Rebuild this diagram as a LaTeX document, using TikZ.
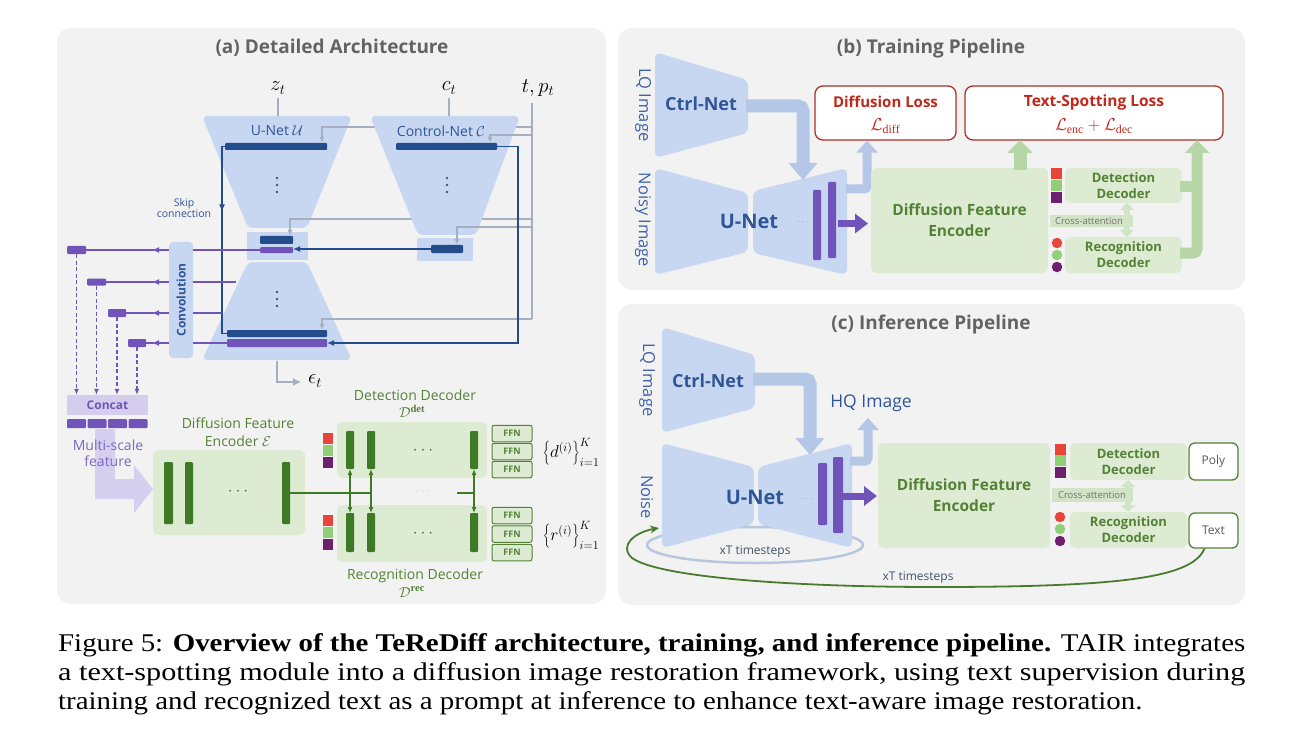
\documentclass[tikz,border=0pt]{standalone}
\usepackage{fontspec}
\usepackage{graphicx}
\setmainfont{Liberation Serif}
\newfontfamily\dfont{Open Sans}
\newfontfamily\capfont{Liberation Serif}
\usetikzlibrary{arrows.meta,calc}

\definecolor{panelbg}{HTML}{F2F2F2}
\definecolor{titlegray}{HTML}{636363}
\definecolor{lblue}{HTML}{C8D7F1}
\definecolor{dblue}{HTML}{244C8A}
\definecolor{tblue}{HTML}{2F5597}
\definecolor{sblue}{HTML}{3F63A8}
\definecolor{glinec}{HTML}{A5AFC2}
\definecolor{vpurple}{HTML}{7054BA}
\definecolor{lpurple}{HTML}{D4CDEE}
\definecolor{lpurplea}{HTML}{D6D0F0}
\definecolor{tpurple}{HTML}{7B68C4}
\definecolor{lgreen}{HTML}{DDEBD3}
\definecolor{dgreen}{HTML}{3E7A26}
\definecolor{tgreen}{HTML}{548235}
\definecolor{sqred}{HTML}{E8453A}
\definecolor{sqgreen}{HTML}{8FD077}
\definecolor{sqpurple}{HTML}{6E1F6E}
\definecolor{lossred}{HTML}{A83228}
\definecolor{losstext}{HTML}{C0281C}
\definecolor{barrow}{HTML}{B4C7E7}
\definecolor{garrow}{HTML}{B7D6A6}
\definecolor{cagreen}{HTML}{D2E4C6}
\definecolor{dotgray}{HTML}{595959}
\definecolor{ellc}{HTML}{B8C6DE}
\definecolor{curvec}{HTML}{4A7A2E}
\definecolor{smalltext}{HTML}{44546A}

\newcommand{\fsz}[2]{\fontsize{#1}{#2}\selectfont}

\tikzset{
  ttl/.style={font={\dfont\bfseries\fsz{19}{22}}, text=titlegray, inner sep=0pt},
  mth/.style={font={\fsz{21}{24}}, inner sep=1pt},
  gl/.style={draw=glinec, line width=1.3pt},
  gtip/.style={-{Latex[length=6pt,width=5pt]}},
  bl/.style={draw=dblue, line width=1.6pt},
  btip/.style={-{Latex[length=7pt,width=6pt]}},
  pl/.style={draw=vpurple, line width=1.6pt},
  ptip/.style={-{Latex[length=7pt,width=6pt]}},
  dgl/.style={draw=dgreen, line width=1.3pt},
  dbar/.style={fill=dblue, inner sep=0pt, outer sep=0pt, rounded corners=1pt},
  pbar/.style={fill=vpurple, inner sep=0pt, outer sep=0pt, rounded corners=1pt},
  gbar/.style={fill=dgreen, inner sep=0pt, outer sep=0pt, rounded corners=1pt},
  sq/.style={inner sep=0pt, minimum width=11pt, minimum height=11pt},
  circ/.style={circle, inner sep=0pt, minimum size=10.5pt},
  gbox/.style={fill=lgreen, rounded corners=6pt, inner sep=0pt},
  ffn/.style={fill=lgreen, draw=tgreen, line width=1pt, rounded corners=2pt, inner sep=0pt, minimum width=40pt, minimum height=16.5pt, font={\dfont\bfseries\fsz{9}{10}}, text=tgreen},
  lossbox/.style={fill=white, draw=lossred, line width=1.3pt, rounded corners=8pt, inner sep=0pt},
  outbox/.style={fill=white, draw=tgreen, line width=1.3pt, rounded corners=6pt, inner sep=0pt, minimum width=49pt, font={\dfont\fsz{12}{14}}, text=dotgray},
  dectext/.style={font={\dfont\bfseries\fsz{13}{16}}, text=tgreen, align=center},
  lbl/.style={font={\dfont\fsz{14}{16}}, inner sep=0pt},
  sidel/.style={rotate=-90, font={\dfont\fsz{16.5}{18}}, text=sblue, inner sep=0pt},
  netl/.style={font={\dfont\bfseries\fsz{18}{20}}, text=tblue, inner sep=0pt},
  bigb/.style={draw=barrow, line width=13pt, rounded corners=5pt, -{Triangle[width=28pt,length=17pt]}},
  smallb/.style={draw=barrow, line width=9pt, rounded corners=3pt, -{Triangle[width=21pt,length=12pt]}},
  parrow/.style={draw=vpurple, line width=7pt, -{Triangle[width=19pt,length=13pt]}},
  caarrow/.style={draw=cagreen, line width=6pt, {Triangle[width=14pt,length=7pt]}-{Triangle[width=14pt,length=7pt]}},
  vdot/.style={fill=smalltext, circle, inner sep=0pt, minimum size=2.6pt},
  capline/.style={anchor=base west, inner sep=0pt},
}
\newcommand{\vdotsat}[3]{% name, x, y
  \node[vdot] (#1a) at (#2,#3-7) {};
  \node[vdot] (#1b) at (#2,#3) {};
  \node[vdot] (#1c) at (#2,#3+7) {};}

\begin{document}
\begin{tikzpicture}[x=1pt,y=-1pt]
\useasboundingbox (0,0) rectangle (1297,751);
\fill[white] (0,0) rectangle (1297,751);

% ================= panel (a)
\fill[panelbg, rounded corners=14pt] (57,28) rectangle (606,604);
\node[ttl] (ta) at (332,48) {(a) Detailed Architecture};

\node[mth] (zt) at (278,88) {$z_t$};
\node[mth] (ct) at (449,88) {$c_t$};
\node[mth] (tp) at (538,88) {$t, p_t$};
\coordinate (uTop) at (278,117);
\coordinate (cTop) at (449,117);
\draw[gl, shorten <=3pt] (zt.south) -- (uTop);
\draw[gl, shorten <=3pt] (ct.south) -- (cTop);

% U-Net
\fill[lblue, rounded corners=5pt] (202,116) -- (352,116) -- (307,228) -- (248,228) -- cycle;
\fill[lblue] (247,232) rectangle (308,260);
\fill[lblue, rounded corners=5pt] (248,262) -- (307,262) -- (352,360) -- (202,360) -- cycle;
\node[lbl, text=tblue] (ulab) at (277,131) {U-Net $\mathcal{U}$};
\node[dbar, minimum width=102pt, minimum height=7pt] (ub1) at (276,146.5) {};
\vdotsat{ud1}{277}{185}
\node[dbar, minimum width=33pt, minimum height=8pt] (umd) at (276.5,240) {};
\node[pbar, minimum width=33pt, minimum height=6pt] (ump) at (276.5,250) {};
\vdotsat{ud2}{277}{299}
\node[dbar, minimum width=100pt, minimum height=7pt] (ubd) at (277,333.5) {};
\node[pbar, minimum width=100pt, minimum height=8pt] (ubp) at (277,343) {};

% timestep lines behind control net
\coordinate (tpA) at (532,103);
\coordinate (tpB) at (532,319);
\draw[gl] (tpA) -- (tpB);
\draw[gl, gtip] (532,127) -| ($(ub1.north east)+(-5,0)$);
\draw[gl, gtip] (532,219) -| ($(umd.north east)+(-3,0)$);

% Control-Net
\fill[lblue, rounded corners=5pt] (370,116) -- (520,116) -- (476,235) -- (418,235) -- cycle;
\fill[lblue] (417,238) rectangle (473,261);
\node[lbl, text=tblue] (clab) at (441,131) {Control-Net $\mathcal{C}$};
\node[dbar, minimum width=101pt, minimum height=7pt] (cb1) at (446.5,146.5) {};
\vdotsat{cd1}{447}{185}
\node[dbar, minimum width=32pt, minimum height=8pt] (cmd) at (447,249) {};
\draw[gl, gtip] (532,135) -| ($(cb1.north east)+(-7,0)$);
\draw[gl, gtip] (532,227) -| ($(cmd.north east)+(-6,0)$);
\draw[gl, gtip] (532,319) -| ($(ubd.north east)+(-5,0)$);

% dark blue connections
\draw[bl, btip] (cb1.east) -- (518,146.5) |- (ubp.east);
\draw[bl, btip] (cmd.west) -- (cmd.west -| ump.east);
\draw[bl] (ub1.west) -- ++(-3,0) coordinate (sk) -- (sk |- ubd.west) -- (ubd.west);
\draw[bl, btip] (sk) -- ++(0,65);
\node[font={\dfont\fsz{10.5}{11.5}}, text=tblue, align=center, inner sep=0pt] (skl) at (184,208) {Skip\\connection};

% epsilon
\node[mth, anchor=west] (eps) at (307,381) {$\epsilon_t$};
\coordinate (uBot) at (277,361);
\draw[gl, -{Latex[length=8pt,width=8pt]}] (uBot) |- ($(eps.west)+(-6,1)$);

% convolution
\node[fill=lblue, rounded corners=4pt, minimum width=24pt, minimum height=116pt, inner sep=0pt] (conv) at (181,300) {};
\node[rotate=90, font={\dfont\bfseries\fsz{12}{14}}, text=tblue, inner sep=0pt] (convt) at (conv.center) {Convolution};
\draw[pl] (ump.west) -- (193,250);
\draw[pl] (236,282) -- (193,282);
\draw[pl] (222,313) -- (193,313);
\draw[pl] (ubp.west) -- (193,343);

\node[pbar, minimum width=19pt, minimum height=8pt] (r1) at (76.5,250) {};
\node[pbar, minimum width=19pt, minimum height=7pt] (r2) at (96.5,282) {};
\node[pbar, minimum width=18pt, minimum height=8pt] (r3) at (117,313) {};
\node[pbar, minimum width=18pt, minimum height=8pt] (r4) at (137,343) {};
\foreach \yy/\rr in {250/r1, 282/r2, 313/r3, 343/r4} {
  \draw[pl, ptip] (169,\yy) -- (152,\yy);
  \draw[pl] (154,\yy) -- (\rr.east);
}

% concat
\node[fill=lpurple, inner sep=0pt, minimum width=81pt, minimum height=20pt, font={\dfont\bfseries\fsz{12}{14}}, text=vpurple] (concat) at (107.5,405) {Concat};
\foreach \rr in {r1,r2,r3,r4}
  \draw[pl, line width=1.4pt, dash pattern=on 4pt off 2.5pt, -{Latex[length=6pt,width=5pt]}] (\rr.south) -- (\rr.south |- concat.north);
\foreach \ii/\xx in {1/76.5, 2/97, 3/117.5, 4/138}
  \node[pbar, minimum width=19pt, minimum height=9pt] (seg\ii) at (\xx,423.5) {};

\fill[lpurplea] (95,429) -- (115,429) -- (115,479) -- (134,479) -- (134,465) -- (153,489) -- (134,513) -- (134,499) -- (95,499) -- cycle;
\node[font={\dfont\fsz{14}{16}}, text=tpurple, align=center, inner sep=0pt] (msf) at (108,453) {Multi-scale\\feature};

% encoder (a)
\node[font={\dfont\fsz{14}{17.5}}, text=tgreen, align=center, inner sep=0pt] (enclab) at (238,432) {Diffusion Feature\\Encoder $\mathcal{E}$};
\node[gbox, minimum width=152pt, minimum height=85pt] (enc) at (229,492.5) {};
\node[gbar, minimum width=9pt, minimum height=62pt] (e1) at (168.5,493) {};
\node[gbar, minimum width=8pt, minimum height=62pt] (e2) at (189,493) {};
\node[gbar, minimum width=8pt, minimum height=62pt] (e3) at (286,493) {};
\node[text=dotgray, inner sep=0pt] (edots) at (238,492) {\fsz{16}{18}$\cdots$};

% decoders (a)
\node[gbox, minimum width=150pt, minimum height=56pt] (det) at (412,450) {};
\node[gbox, minimum width=150pt, minimum height=57pt] (rec) at (412,533.5) {};
\node[gbar, minimum width=8pt, minimum height=38pt] (d1) at (350,450) {};
\node[gbar, minimum width=8pt, minimum height=38pt] (d2) at (371,450) {};
\node[gbar, minimum width=8pt, minimum height=38pt] (d3) at (474,450) {};
\node[gbar, minimum width=8pt, minimum height=39pt] (q1) at (350,532.5) {};
\node[gbar, minimum width=8pt, minimum height=39pt] (q2) at (371,532.5) {};
\node[gbar, minimum width=8pt, minimum height=39pt] (q3) at (474,532.5) {};
\node[text=dotgray, inner sep=0pt] (ddots) at (423,451) {\fsz{16}{18}$\cdots$};
\node[text=dotgray, inner sep=0pt] (qdots) at (423,534) {\fsz{16}{18}$\cdots$};
\draw[dgl] (e3.east) -- (e3.east -| d2.south);
\draw[dgl, {Latex[length=6pt,width=5pt]}-{Latex[length=6pt,width=5pt]}] (d1.south) -- (q1.north);
\draw[dgl, {Latex[length=6pt,width=5pt]}-{Latex[length=6pt,width=5pt]}] (d2.south) -- (q2.north);
\coordinate (seg2a) at (457,493);
\draw[dgl] (seg2a) -- (seg2a -| d3.south);
\draw[dgl, {Latex[length=6pt,width=5pt]}-{Latex[length=6pt,width=5pt]}] (d3.south) -- (q3.north);
\node[text=gray, inner sep=0pt] (mdots) at (423,492) {\fsz{8}{9}$\cdot\,\cdot\,\cdot$};

\foreach \cc/\yy/\nn in {sqred/438/a, sqgreen/450/b, sqpurple/462/c}
  \node[sq, fill=\cc, minimum width=10pt] (dsq\nn) at (328,\yy) {};
\foreach \cc/\yy/\nn in {sqred/520/a, sqgreen/532/b, sqpurple/544/c}
  \node[sq, fill=\cc, minimum width=10pt] (rsq\nn) at (328,\yy) {};

\foreach \yy/\nn in {433.5/1, 451.5/2, 469.5/3}
  \node[ffn] (fd\nn) at (512,\yy) {FFN};
\foreach \yy/\nn in {515.5/1, 534/2, 552.5/3}
  \node[ffn] (fr\nn) at (512,\yy) {FFN};

\node[font={\fsz{17.5}{20}}, inner sep=0pt] (dset) at (571,452) {$\left\{d^{(i)}\right\}_{i=1}^{K}$};
\node[font={\fsz{17.5}{20}}, inner sep=0pt] (rset) at (571,535) {$\left\{r^{(i)}\right\}_{i=1}^{K}$};

\node[lbl, text=tgreen] (detlab) at (415,395) {Detection Decoder};
\node[font={\fsz{15}{17}}, text=tgreen, inner sep=0pt] (detsym) at (412,411) {$\mathcal{D}^{\mathbf{det}}$};
\node[lbl, text=tgreen] (reclab) at (415,576) {Recognition Decoder};
\node[font={\fsz{15}{17}}, text=tgreen, inner sep=0pt] (recsym) at (412,592) {$\mathcal{D}^{\mathbf{rec}}$};

% ================= panel (b)
\fill[panelbg, rounded corners=14pt] (618,28) rectangle (1245,290);
\node[ttl] (tb) at (931,49) {(b) Training Pipeline};

\fill[lblue, rounded corners=6pt] (655,52) -- (748,80) -- (748,133) -- (655,158) -- cycle;
\fill[lblue, rounded corners=6pt] (655,168) -- (748,193) -- (748,252) -- (655,275) -- cycle;
\fill[lblue, rounded corners=6pt] (753,191) -- (847,168) -- (847,275) -- (753,253) -- cycle;
\node[netl] (ctrlb) at (701,104) {Ctrl-Net};
\node[netl, font={\dfont\bfseries\fsz{20}{22}}] (unetb) at (749,221) {U-Net};
\node[sidel] (lqb) at (643,105) {LQ Image};
\node[sidel] (nib) at (643,220) {Noisy Image};
\node[text=gray, inner sep=0pt] (bdots) at (803,222) {\fsz{9}{10}$\cdots$};
\node[pbar, minimum width=8pt, minimum height=70pt] (pb1) at (817,225) {};
\node[pbar, minimum width=8pt, minimum height=76pt] (pb2) at (832,220) {};
\draw[parrow] (838,223.5) -- (868,223.5);

\node[lossbox, minimum width=141pt, minimum height=54pt] (dloss) at (885.5,113) {};
\node[font={\dfont\bfseries\fsz{15}{17}}, text=losstext, inner sep=0pt] (dlossT) at (885.5,102) {Diffusion Loss};
\node[font={\fsz{17}{19}}, text=losstext, inner sep=0pt] (dlossM) at (885.5,126) {$\mathcal{L}_{\mathrm{diff}}$};
\node[lossbox, minimum width=258pt, minimum height=54pt] (tloss) at (1094,113) {};
\node[font={\dfont\bfseries\fsz{15.5}{17}}, text=losstext, inner sep=0pt] (tlossT) at (1094,102) {Text-Spotting Loss};
\node[font={\fsz{17}{19}}, text=losstext, inner sep=0pt] (tlossM) at (1094,126) {$\mathcal{L}_{\mathrm{enc}}+\mathcal{L}_{\mathrm{dec}}$};

\draw[bigb] (746,106) -- (803,106) -- (803,180);
\draw[smallb] (846,189) -- (867,189) -- (dloss.south -| 867,0);

\node[gbox, minimum width=177pt, minimum height=105pt, font={\dfont\bfseries\fsz{15.5}{21}}, text=tgreen, align=center] (encb) at (959.5,220.5) {Diffusion Feature\\Encoder};
\draw[draw=garrow, line width=13pt, -{Triangle[width=25pt,length=13pt]}] (1020,170) -- (1020,140);

\node[gbox, minimum width=117pt, minimum height=35pt, dectext] (detb) at (1123.5,185.5) {Detection\\Decoder};
\node[gbox, minimum width=117pt, minimum height=36pt, dectext] (recb) at (1123.5,255) {Recognition\\Decoder};
\node[sq, fill=sqred] (bs1) at (1056.5,174) {};
\node[sq, fill=sqgreen] (bs2) at (1056.5,186) {};
\node[sq, fill=sqpurple] (bs3) at (1056.5,197.5) {};
\node[circ, fill=sqred] (bc1) at (1057,243) {};
\node[circ, fill=sqgreen] (bc2) at (1057,255) {};
\node[circ, fill=sqpurple] (bc3) at (1057,267) {};
\node[fill=cagreen, minimum width=83pt, minimum height=12pt, inner sep=0pt] (cab) at (1091.5,221) {};
\draw[caarrow] (1127,203) -- (1127,237);
\node[font={\dfont\fsz{9.5}{11}}, text=dotgray!85, inner sep=0pt] (cat) at (1089,221) {Cross-attention};

\draw[draw=garrow, line width=11pt] (1180,187) -- (1197,187);
\draw[draw=garrow, line width=11pt, rounded corners=4pt, -{Triangle[width=24pt,length=13pt]}] (1180,253) -- (1197,253) -- (1197,140);

% ================= panel (c)
\fill[panelbg, rounded corners=14pt] (618,304) rectangle (1245,605);
\node[ttl] (tcc) at (931,325) {(c) Inference Pipeline};

\draw[draw=ellc, line width=2.5pt] (755,545) ellipse [x radius=108pt, y radius=18pt];
\fill[lblue, rounded corners=6pt] (662,327) -- (755,355) -- (755,408) -- (662,433) -- cycle;
\fill[lblue, rounded corners=6pt] (662,443) -- (754,467) -- (754,524) -- (662,548) -- cycle;
\fill[lblue, rounded corners=6pt] (758,467) -- (852,443) -- (852,548) -- (758,524) -- cycle;
\node[netl] (ctrlc) at (708,381) {Ctrl-Net};
\node[netl, font={\dfont\bfseries\fsz{20}{22}}] (unetc) at (755,497) {U-Net};
\node[sidel] (lqc) at (647,380) {LQ Image};
\node[sidel] (noisec) at (647,497) {Noise};
\node[text=gray, inner sep=0pt] (cdots) at (807,499) {\fsz{9}{10}$\cdots$};
\node[pbar, minimum width=9pt, minimum height=62pt] (pc1) at (822.5,494) {};
\node[pbar, minimum width=10pt, minimum height=76pt] (pc2) at (838,495) {};
\draw[parrow] (843,496) -- (877,496);

\draw[bigb] (753,379) -- (810,379) -- (810,455);
\draw[smallb] (850,461) -- (868,461) -- (868,418);
\node[font={\dfont\fsz{17.5}{20}}, text=tblue, inner sep=0pt] (hq) at (871,403) {HQ Image};
\node[font={\dfont\fsz{12}{14}}, text=smalltext, inner sep=0pt] (xt1) at (755,552) {xT timesteps};

\node[gbox, minimum width=172pt, minimum height=105pt, font={\dfont\bfseries\fsz{15.5}{21}}, text=tgreen, align=center] (encc) at (964,495.5) {Diffusion Feature\\Encoder};
\node[gbox, minimum width=117pt, minimum height=37pt, dectext] (detc) at (1128.5,461.5) {Detection\\Decoder};
\node[gbox, minimum width=117pt, minimum height=36pt, dectext] (recc) at (1128.5,530) {Recognition\\Decoder};
\node[sq, fill=sqred] (cs1) at (1060.5,449) {};
\node[sq, fill=sqgreen] (cs2) at (1060.5,460.5) {};
\node[sq, fill=sqpurple] (cs3) at (1060.5,472.5) {};
\node[circ, fill=sqred] (cc1) at (1060,517) {};
\node[circ, fill=sqgreen] (cc2) at (1060,529) {};
\node[circ, fill=sqpurple] (cc3) at (1060,541) {};
\node[fill=cagreen, minimum width=81pt, minimum height=14pt, inner sep=0pt] (cac) at (1092.5,495) {};
\draw[caarrow] (1128,480) -- (1128,512);
\node[font={\dfont\fsz{9.5}{11}}, text=dotgray!85, inner sep=0pt] (catc) at (1092,495) {Cross-attention};

\node[outbox, minimum height=37pt] (poly) at (1213.5,461.5) {Poly};
\node[outbox, minimum height=35pt] (txtb) at (1213.5,530.5) {Text};

\draw[draw=curvec, line width=1.8pt, -{Stealth[length=9pt,width=8pt]}] ($(txtb.south)+(-9,0)$) .. controls (1192,578) and (1120,587) .. (935,587) .. controls (800,587) and (660,578) .. (632,558) .. controls (618,545) and (636,532) .. (659,528);
\node[font={\dfont\fsz{12}{14}}, text=smalltext, inner sep=0pt] (xt2) at (918,578) {xT timesteps};

% ================= caption
\node[capline] (cap1) at (58,651) {\resizebox{1187pt}{\height}{\capfont\fsz{25.5}{29}Figure 5: \textbf{Overview of the TeReDiff architecture, training, and inference pipeline.} TAIR integrates}};
\node[capline] (cap2) at (58,680) {\resizebox{1187pt}{\height}{\capfont\fsz{25.5}{29}a text-spotting module into a diffusion image restoration framework, using text supervision during}};
\node[capline] (cap3) at (58,709) {\resizebox{1084pt}{\height}{\capfont\fsz{25.5}{29}training and recognized text as a prompt at inference to enhance text-aware image restoration.}};
\end{tikzpicture}
\end{document}
